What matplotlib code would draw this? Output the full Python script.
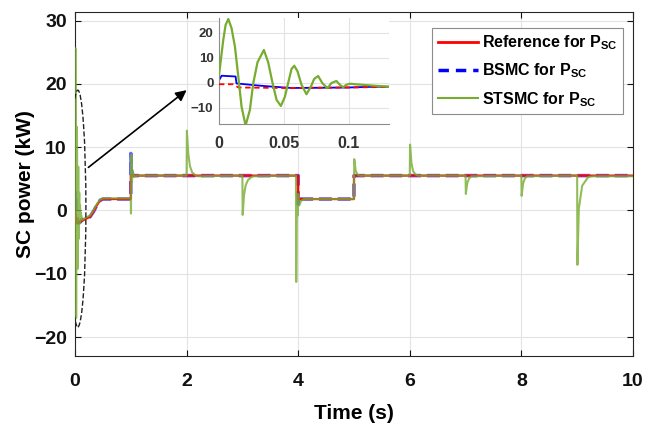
import numpy as np
import matplotlib
matplotlib.use("Agg")
import matplotlib.pyplot as plt
from matplotlib.lines import Line2D
from matplotlib.patches import Ellipse

plt.rcParams['font.family'] = ['Liberation Sans', 'DejaVu Sans']
plt.rcParams['font.weight'] = 'bold'
plt.rcParams['mathtext.fontset'] = 'custom'
plt.rcParams['mathtext.rm'] = 'Liberation Sans:bold'
plt.rcParams['mathtext.bf'] = 'Liberation Sans:bold'
plt.rcParams['mathtext.it'] = 'Liberation Sans:bold'

# ---------------- data ----------------
# Reference for P_SC (kW)
ref_t = [0.0, 0.011, 0.015, 0.05, 0.1, 0.13, 0.2, 0.27, 0.33, 0.39, 0.45, 0.5,
         1.0, 1.0, 4.0, 4.0, 5.0, 5.0, 10.0]
ref_p = [-0.5, -0.5, -1.8, -2.0, -1.8, -1.6, -1.3, -1.0, -0.2, 0.8, 1.6, 1.8,
         1.8, 5.5, 5.5, 1.8, 1.8, 5.5, 5.5]

# BSMC for P_SC (kW)
bsmc_t = [0.0, 0.002, 0.0128, 0.0135, 0.02, 0.03, 0.042, 0.056, 0.08, 0.1, 0.12,
          0.2, 0.27, 0.33, 0.39, 0.45, 0.5,
          1.0, 1.0, 1.01, 1.03, 4.0, 4.0, 4.02, 5.0, 5.0, 10.0]
bsmc_p = [1.0, 2.9, 2.6, -0.2, -0.5, -1.0, -1.5, -2.0, -1.9, -1.8, -1.5,
          -1.3, -1.0, -0.2, 0.8, 1.6, 1.8,
          1.8, 9.0, 6.5, 5.5, 5.5, 1.0, 1.8, 1.8, 5.5, 5.5]

# STSMC for P_SC (kW)
stsmc_t = [0.0, 0.0033, 0.0051, 0.0072, 0.0097, 0.0123, 0.0149, 0.0174, 0.0205,
           0.0238, 0.0264, 0.0297, 0.0346, 0.0379, 0.0413, 0.0444, 0.0477,
           0.0508, 0.0533, 0.0559, 0.058, 0.0605, 0.0636, 0.0674, 0.0708,
           0.0733, 0.0764, 0.0797, 0.0836, 0.0867, 0.0905, 0.0931, 0.0956,
           0.0982, 0.1008, 0.1097, 0.12, 0.131,
           0.2, 0.27, 0.33, 0.39, 0.45, 0.5,
           1.0, 1.003, 1.01, 1.02, 1.035, 1.06, 1.1,
           2.0, 2.005, 2.03, 2.06, 2.1, 2.15, 2.2,
           3.0, 3.005, 3.03, 3.06, 3.1, 3.15, 3.2,
           3.96, 3.965, 3.975, 3.99, 4.0, 4.02, 4.05, 4.1,
           5.0, 5.005, 5.03, 5.06, 5.1,
           6.0, 6.005, 6.03, 6.06, 6.1, 6.15,
           7.0, 7.005, 7.03, 7.06, 7.1,
           8.0, 8.005, 8.03, 8.06, 8.1,
           9.0, 9.005, 9.03, 9.09, 9.2, 9.3,
           10.0]
stsmc_p = [3.0, 17.2, 23.2, 25.6, 21.9, 14.5, 2.5, -9.5, -17.0,
           -10.8, -0.1, 8.3, 13.2, 8.3, -0.1, -6.8, -9.2,
           -5.5, 0.0, 5.6, 6.9, 4.7, -0.7, -4.5, -1.5,
           1.6, 2.8, -0.1, -2.1, 0.0, 0.8, -0.7, -1.7,
           -0.7, -0.3, -0.7, -1.1, -1.5,
           -1.1, -0.8, 0.0, 1.0, 1.7, 1.9,
           1.9, -0.5, 8.8, 4.5, 6.2, 5.3, 5.5,
           5.5, 12.6, 9.0, 7.0, 6.0, 5.6, 5.4,
           5.5, -0.7, 2.5, 4.0, 4.8, 5.2, 5.4,
           5.5, -11.3, 1.3, -0.8, 2.6, 0.8, 1.5, 1.8,
           1.8, 8.1, 6.3, 5.7, 5.5,
           5.5, 10.4, 7.5, 6.2, 5.7, 5.5,
           5.5, 2.6, 4.3, 5.0, 5.4,
           5.5, 2.3, 4.2, 5.0, 5.4,
           5.5, -8.6, 0.3, 3.9, 5.3, 5.4,
           5.4]

main_xticks = [0, 2, 4, 6, 8, 10]
main_yticks = [-20, -10, 0, 10, 20, 30]
inset_xticks = [0, 0.05, 0.1]
inset_xticklabels = ['0', '0.05', '0.1']
inset_yticks = [-10, 0, 10, 20]

labels = [r'Reference for P$_{\mathbf{SC}}$', r'BSMC for P$_{\mathbf{SC}}$',
          r'STSMC for P$_{\mathbf{SC}}$']

RED = '#FF0000'
BLUE = '#0000FF'
GREEN = '#77AC30'
TXT = '#111111'

# ---------------- figure ----------------
fig = plt.figure(figsize=(6.45, 4.28), dpi=100)
ax = fig.add_axes([0.1163, 0.1682, 0.865, 0.8045])

ax.plot(bsmc_t, bsmc_p, color=BLUE, lw=2.6, ls=(0, (3.6, 1.6)), alpha=0.6, zorder=2)
ax.plot(ref_t, ref_p, color=RED, lw=1.6, zorder=3)
ax.plot(stsmc_t, stsmc_p, color=GREEN, lw=1.5, alpha=0.8, zorder=4)

ax.set_xlim(0, 10)
ax.set_ylim(-23, 31.4)
ax.set_xticks(main_xticks)
ax.set_yticks(main_yticks)
ax.grid(True, color='#e3e3e3', lw=0.8)
ax.set_axisbelow(True)
ax.tick_params(direction='in', length=4, width=0.8, top=True, right=True,
               labelsize=14, colors=TXT)
ax.tick_params(axis='x', pad=12)
ax.tick_params(axis='y', pad=6)
for lab in ax.get_xticklabels() + ax.get_yticklabels():
    lab.set_fontweight('bold')
for s in ax.spines.values():
    s.set_color('#262626')
    s.set_linewidth(0.8)
ax.set_xlabel('Time (s)', fontsize=15, fontweight='bold', labelpad=10)
ax.set_ylabel('SC power (kW)', fontsize=15, fontweight='bold', labelpad=-1)

# ellipse and arrow
ell_center = (0.05, 0.3)
ell_w, ell_h = 0.29, 37.4
ax.add_patch(Ellipse(ell_center, ell_w, ell_h, fill=False, ls='--', ec='#222222',
                     lw=1.0, zorder=5))
arrow_tail = (0.24, 6.8)
arrow_head = (2.0, 19.0)
ax.annotate('', xy=arrow_head, xytext=arrow_tail,
            arrowprops=dict(arrowstyle='-|>', color='k', lw=1.2,
                            mutation_scale=16, shrinkA=0, shrinkB=0), zorder=6)

# legend
handles = [Line2D([], [], color=RED, lw=2),
           Line2D([], [], color=BLUE, lw=2.5, ls=(0, (3, 2))),
           Line2D([], [], color=GREEN, lw=1.5)]
leg = ax.legend(handles, labels, loc='upper right', bbox_to_anchor=(0.982, 0.953),
                borderaxespad=0, fancybox=False, framealpha=1, edgecolor='#8c8c8c',
                prop={'weight': 'bold', 'size': 11.5}, handlelength=2.5,
                handletextpad=0.25, labelspacing=0.6, borderpad=0.35)
leg.get_frame().set_linewidth(0.8)

# inset
axi = fig.add_axes([0.3395, 0.7103, 0.2636, 0.2477])
axi.set_facecolor('white')
axi.plot(ref_t, ref_p, color=RED, lw=1.3, ls=(0, (3, 2)), zorder=3)
axi.plot(bsmc_t, bsmc_p, color=BLUE, lw=1.3, zorder=2)
axi.plot(stsmc_t, stsmc_p, color=GREEN, lw=1.6, zorder=4)
axi.set_xlim(0, 0.131)
axi.set_ylim(-16.4, 26)
axi.set_xticks(inset_xticks)
axi.set_xticklabels(inset_xticklabels)
axi.set_yticks(inset_yticks)
axi.grid(True, color='#e3e3e3', lw=0.8)
axi.set_axisbelow(True)
axi.spines['top'].set_visible(False)
axi.spines['right'].set_visible(False)
for s in ['left', 'bottom']:
    axi.spines[s].set_color('#8c8c8c')
    axi.spines[s].set_linewidth(0.8)
axi.tick_params(direction='in', length=0, colors='#333333')
axi.tick_params(axis='x', labelsize=11.5, pad=8.5)
axi.tick_params(axis='y', labelsize=9.5, pad=4)
for lab in axi.get_xticklabels() + axi.get_yticklabels():
    lab.set_fontweight('bold')

fig.savefig('out.png', dpi=100)
